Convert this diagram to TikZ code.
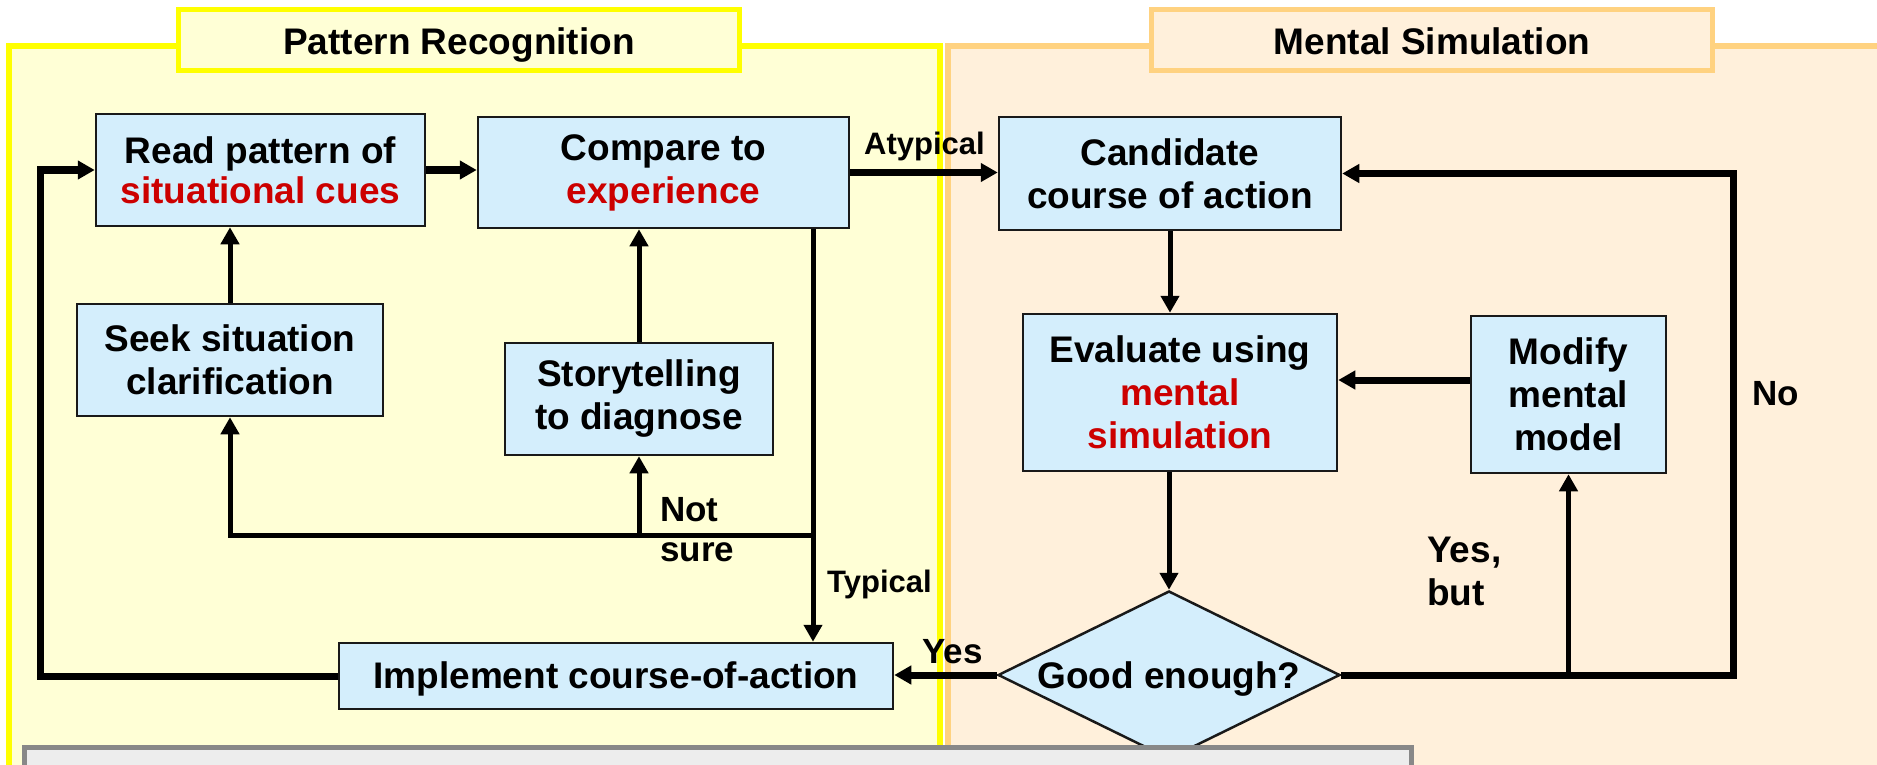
\documentclass[tikz,border=0pt]{standalone}
\usepackage{fontspec}
\setmainfont{Liberation Sans}
\usetikzlibrary{arrows.meta,shapes.geometric}

\definecolor{panelyellow}{RGB}{255,255,0}
\definecolor{fillyellow}{RGB}{255,255,214}
\definecolor{panelorange}{RGB}{255,210,128}
\definecolor{fillorange}{RGB}{255,240,219}
\definecolor{boxblue}{RGB}{212,238,252}
\definecolor{cuered}{RGB}{204,0,0}
\definecolor{notegray}{RGB}{136,136,136}
\definecolor{notefill}{RGB}{237,237,237}

\tikzset{
	bigtext/.style={font=\bfseries\fontsize{37}{43}\selectfont},
	stepbox/.style={bigtext, draw=black!90, line width=2.5pt, fill=boxblue, align=center, inner sep=0pt},
	decide/.style={bigtext, diamond, aspect=2, draw=black!90, line width=2.5pt, fill=boxblue, inner sep=0pt, text height=27pt, text depth=0pt},
	titlebox/.style={bigtext, line width=5.5pt, minimum width=561pt, minimum height=61pt, inner sep=0pt, text height=30pt, text depth=0pt},
	flow/.style={line width=5pt, -{Triangle[length=17pt,width=18pt]}},
	heavy/.style={line width=7pt},
	lbl/.style={inner sep=0pt, anchor=base west, font=\bfseries\fontsize{35}{40}\selectfont},
	smalllbl/.style={lbl, font=\bfseries\fontsize{31}{36}\selectfont}
}

\begin{document}
\begin{tikzpicture}[x=1pt,y=-1pt]
	\useasboundingbox (0,0) rectangle (1877,765);
	\clip (0,0) rectangle (1877,765);

	% the two panels
	\draw[panelyellow, line width=5.5pt, fill=fillyellow] (9,46) rectangle (940,800);
	\draw[panelorange, line width=5.5pt, fill=fillorange] (948,46) rectangle (1900,800);
	\node[titlebox, draw=panelyellow, fill=fillyellow] (prtitle) at (459,40) {Pattern Recognition};
	\node[titlebox, draw=panelorange, fill=fillorange] (mstitle) at (1432,40) {Mental Simulation};

	% steps
	\node[stepbox, minimum width=329pt, minimum height=112pt, font=\bfseries\fontsize{37}{40}\selectfont] (read) at (260.5,170) {Read pattern of\\\textcolor{cuered}{situational cues}};
	\node[stepbox, minimum width=371pt, minimum height=111pt] (compare) at (663.5,172.5) {Compare to\\\textcolor{cuered}{experience}};
	\node[stepbox, minimum width=342pt, minimum height=113pt] (cand) at (1170,173.5) {Candidate\\course of action};
	\node[stepbox, minimum width=306pt, minimum height=112pt] (seek) at (230,360) {Seek situation\\clarification};
	\node[stepbox, minimum width=268pt, minimum height=112pt] (story) at (639,399) {Storytelling\\to diagnose};
	\node[stepbox, minimum width=314pt, minimum height=157pt] (eval) at (1180,392.5) {Evaluate using\\\textcolor{cuered}{mental}\\\textcolor{cuered}{simulation}};
	\node[stepbox, minimum width=195pt, minimum height=157pt] (modify) at (1568.5,394.5) {Modify\\mental\\model};
	\node[stepbox, minimum width=554pt, minimum height=66pt, text height=27pt, text depth=3pt] (impl) at (616,676) {Implement course-of-action};
	\node[decide, minimum width=342pt, minimum height=168pt] (good) at (1169,675) {Good enough?};

	% connectors
	\coordinate (back) at (40,676);
	\coordinate (split) at (813,535);
	\coordinate (nobend) at (1733,675);
	\coordinate (remodel) at ([yshift=14.5pt]modify.west);

	\draw[flow, heavy] (impl.west) -- (back) |- (read.west);
	\draw[flow, heavy] (read.east) -- (read.east -| compare.west);
	\draw[flow, heavy] (compare.east) -- (compare.east -| cand.west);
	\draw[flow] (seek.north) -- (seek.north |- read.south);
	\draw[flow] (story.north) -- (story.north |- compare.south);
	\draw[flow] (split |- compare.south) -- (split |- impl.north);
	\draw[flow] (split) -| (seek.south);
	\draw[flow] (story.south |- split) -- (story.south);
	\draw[flow] (cand.south) -- (cand.south |- eval.north);
	\draw[flow] (good.north |- eval.south) -- (good.north);
	\draw[flow, heavy] (good.west) -- (good.west -| impl.east);
	\draw[flow, heavy] (good.east) -- (nobend) |- (cand.east);
	\draw[flow] (modify.south |- good.east) -- (modify.south);
	\draw[flow, heavy] (remodel) -- (remodel -| eval.east);

	% labels
	\node[smalllbl] (atyp) at (864,155) {Atypical};
	\node[smalllbl] (typ) at (827,592) {Typical};
	\node[lbl, anchor=north west, align=left] (notsure) at (660,497) {Not\\sure};
	\node[lbl] (yes) at (922,663) {Yes};
	\node[lbl, anchor=north west, align=left, font=\bfseries\fontsize{37}{43}\selectfont] (yesbut) at (1427,536.5) {Yes,\\but};
	\node[lbl] (no) at (1752,405) {No};

	% note box along the bottom
	\draw[notegray, line width=5pt, fill=notefill] (24,747.5) rectangle (1411,800);
\end{tikzpicture}
\end{document}
